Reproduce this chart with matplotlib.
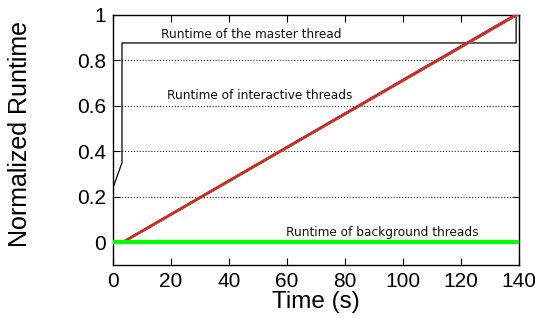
import matplotlib
matplotlib.use("Agg")
import matplotlib.pyplot as plt
import numpy as np

# Datos
master_t = [0, 3.1, 3.1, 139, 139]
master_y = [0.24, 0.35, 0.877, 0.877, 1.0]

# hilos interactivos: rectas casi superpuestas (inicio, fin)
inter_colors = ["#9400d3", "#56b4e9", "#009e73", "#0072b2", "#e69f00", "#e51e10"]
inter_t0 = [3.2, 3.6, 3.5, 3.4, 3.3, 3.3]
inter_t1 = [138.6, 139.4, 139.2, 139.0, 139.1, 139.0]
inter_y0 = [0.0, 0.0, 0.0, 0.0, 0.0, 0.0]
inter_y1 = [1.0, 1.0, 1.0, 1.0, 1.0, 1.0]

bg_t = [0, 140]
bg_y = [0.002, 0.002]

xticks = np.arange(0, 141, 20)
yticks = [0, 0.2, 0.4, 0.6, 0.8, 1]
ytick_labels = ["0", "0.2", "0.4", "0.6", "0.8", "1"]

fig = plt.figure(figsize=(5.35, 3.18), dpi=100)
ax = fig.add_axes([113/535, 1-265/318, (519-113)/535, (265-15)/318])

# lineas de grilla punteadas
for y in [0.2, 0.4, 0.6, 0.8]:
    ax.axhline(y, color="black", linestyle=(0, (1, 2)), linewidth=0.7, zorder=1)

ax.plot(master_t, master_y, color="black", linewidth=0.9, zorder=2)

for c, t0, t1, y0, y1 in zip(inter_colors, inter_t0, inter_t1, inter_y0, inter_y1):
    ax.plot([t0, t1], [y0, y1], color=c, linewidth=1.6, zorder=3)

ax.plot(bg_t, bg_y, color="#00ff00", linewidth=3, zorder=4, solid_capstyle="butt")

fs_txt = 8.7
ax.text(47.8, 0.916, "Runtime of the master thread", ha="center", va="center",
        fontsize=fs_txt, family="DejaVu Sans", color="#111111")
ax.text(50.7, 0.648, "Runtime of interactive threads", ha="center", va="center",
        fontsize=fs_txt, family="DejaVu Sans", color="#111111")
ax.text(92.8, 0.044, "Runtime of background threads", ha="center", va="center",
        fontsize=fs_txt, family="DejaVu Sans", color="#111111")

ax.set_xlim(0, 140)
ax.set_ylim(-0.1, 1.0)
ax.set_xticks(xticks)
ax.set_xticklabels([str(x) for x in xticks])
ax.set_yticks(yticks)
ax.set_yticklabels(ytick_labels)
ax.tick_params(direction="in", top=True, right=True, length=5, width=0.8,
               labelsize=15, pad=5)
for lab in ax.get_xticklabels() + ax.get_yticklabels():
    lab.set_family("Liberation Sans")
for s in ax.spines.values():
    s.set_linewidth(1.0)

ax.set_xlabel("Time (s)", fontsize=17.5, family="Liberation Sans", labelpad=0)
ax.set_ylabel("Normalized Runtime", fontsize=18, family="Liberation Sans")
ax.yaxis.set_label_coords(-0.2, 0.524)

fig.savefig("out.png", dpi=100)
